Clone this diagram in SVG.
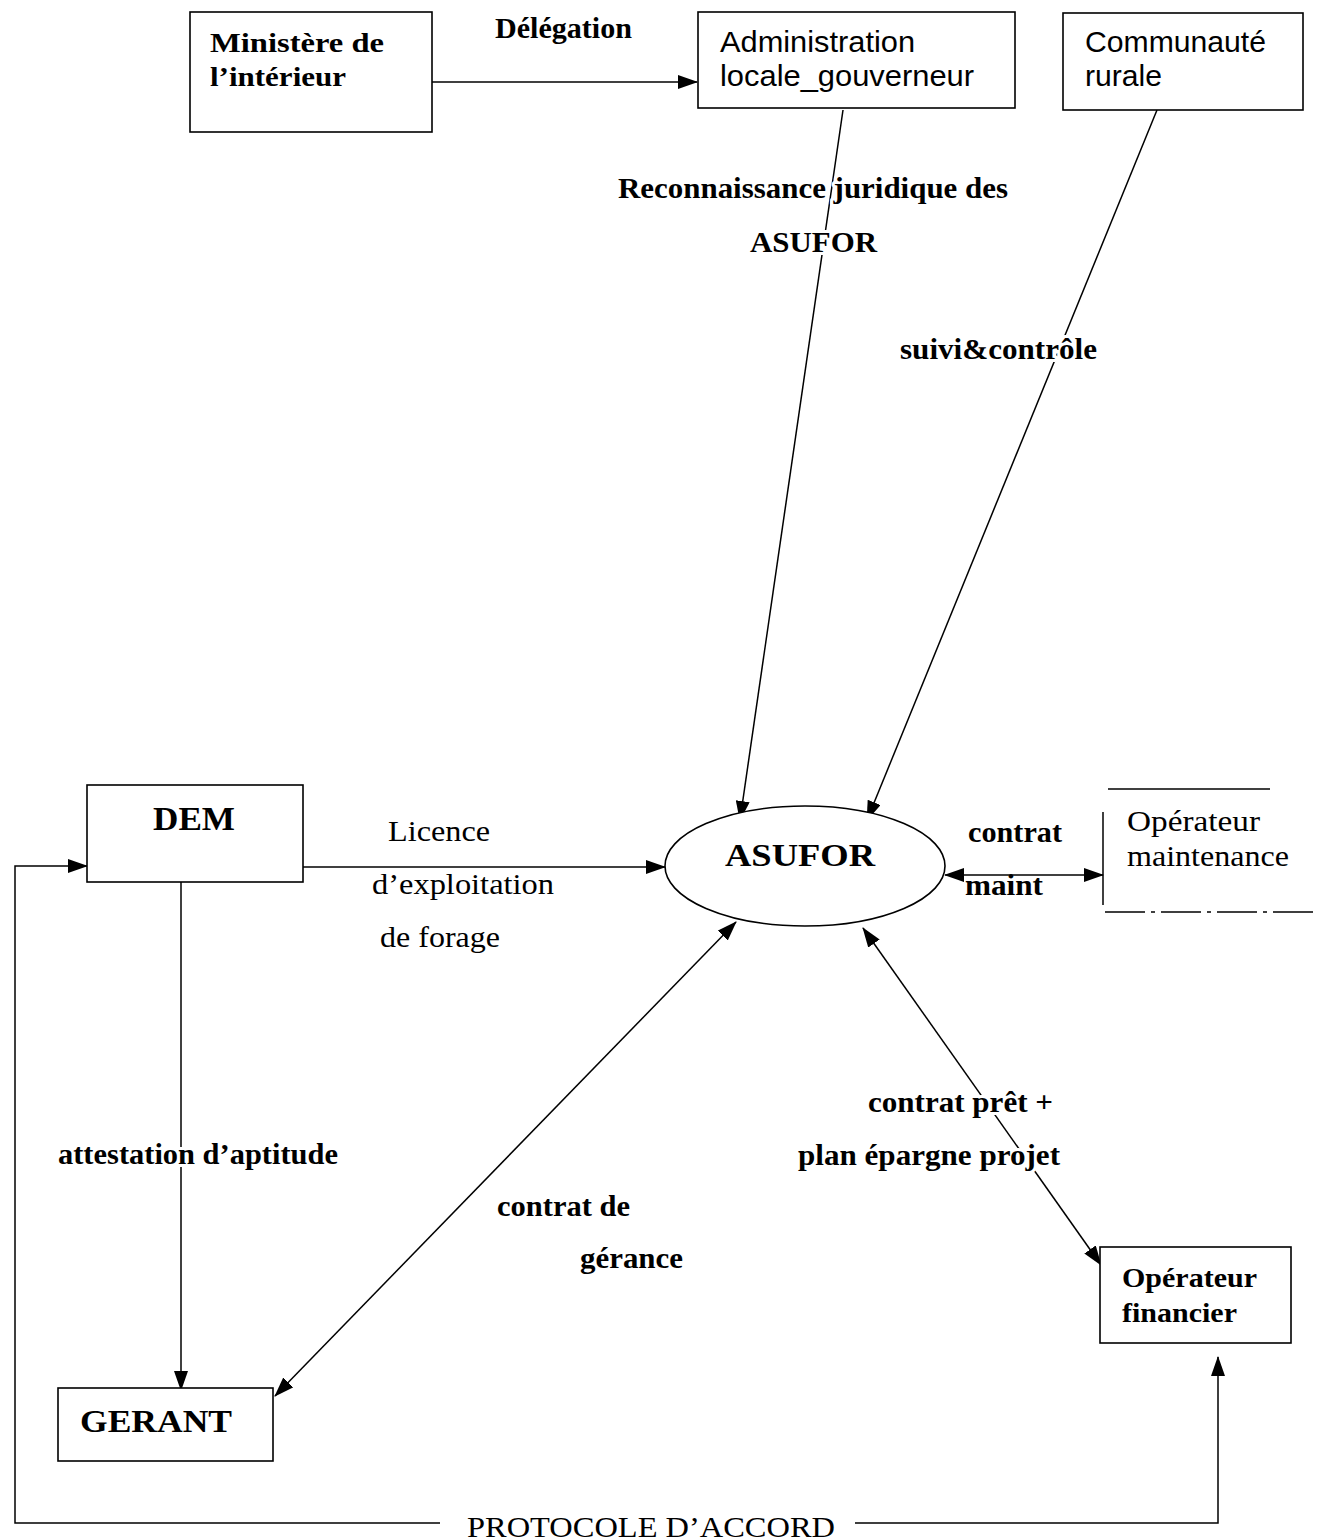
<svg xmlns="http://www.w3.org/2000/svg" width="1317" height="1540" viewBox="0 0 1317 1540">
<style>
.box{fill:#fff;stroke:#000;stroke-width:1.6}
.ln{fill:none;stroke:#000;stroke-width:1.5}
.sb{font-family:"Liberation Serif","Times New Roman",serif;font-weight:bold;fill:#000}
.sr{font-family:"Liberation Serif","Times New Roman",serif;fill:#000}
.ss{font-family:"Liberation Sans",Arial,sans-serif;fill:#000}
.halo{paint-order:stroke;stroke:#fff;stroke-width:6px;stroke-linejoin:round}
</style>
<defs>
<marker id="ah" viewBox="0 0 20 14" refX="19" refY="7" markerWidth="20" markerHeight="14" markerUnits="userSpaceOnUse" orient="auto-start-reverse">
<path d="M0,0 L20,7 L0,14 Z" fill="#000"/>
</marker>
</defs>
<rect width="1317" height="1540" fill="#fff"/>
<g id="connectors">
<line class="ln" x1="432" y1="82" x2="697" y2="82" marker-end="url(#ah)"/>
<line class="ln" x1="843" y1="110" x2="740" y2="820" marker-end="url(#ah)"/>
<line class="ln" x1="1157" y1="110" x2="867" y2="820" marker-end="url(#ah)"/>
<line class="ln" x1="303" y1="867" x2="665" y2="867" marker-end="url(#ah)"/>
<line class="ln" x1="945" y1="875" x2="1103" y2="875" marker-start="url(#ah)" marker-end="url(#ah)"/>
<line class="ln" x1="181" y1="882" x2="181" y2="1390" marker-end="url(#ah)"/>
<line class="ln" x1="736" y1="922" x2="275" y2="1396" marker-start="url(#ah)" marker-end="url(#ah)"/>
<line class="ln" x1="863" y1="928" x2="1101" y2="1265" marker-start="url(#ah)" marker-end="url(#ah)"/>
<polyline class="ln" points="440,1523 15,1523 15,866 87,866" marker-end="url(#ah)"/>
<polyline class="ln" points="855,1523 1218,1523 1218,1357" marker-end="url(#ah)"/>
<text class="sb halo" x="618" y="198" font-size="29" textLength="390" lengthAdjust="spacingAndGlyphs">Reconnaissance juridique des</text>
<text class="sb halo" x="750" y="252" font-size="29" textLength="127" lengthAdjust="spacingAndGlyphs">ASUFOR</text>
<text class="sb halo" x="900" y="359" font-size="29" textLength="197" lengthAdjust="spacingAndGlyphs">suivi&amp;contrôle</text>
<text class="sb" x="495" y="38" font-size="29" textLength="137" lengthAdjust="spacingAndGlyphs">Délégation</text>
<text class="sr" x="388" y="841" font-size="29" textLength="102" lengthAdjust="spacingAndGlyphs">Licence</text>
<text class="sr" x="372" y="894" font-size="29" textLength="182" lengthAdjust="spacingAndGlyphs">d’exploitation</text>
<text class="sr" x="380" y="947" font-size="29" textLength="120" lengthAdjust="spacingAndGlyphs">de forage</text>
<text class="sb" x="968" y="842" font-size="29" textLength="94" lengthAdjust="spacingAndGlyphs">contrat</text>
<text class="sb" x="965" y="895" font-size="29" textLength="78" lengthAdjust="spacingAndGlyphs">maint</text>
<text class="sb halo" x="58" y="1164" font-size="29" textLength="280" lengthAdjust="spacingAndGlyphs">attestation d’aptitude</text>
<text class="sb" x="497" y="1216" font-size="29" textLength="133" lengthAdjust="spacingAndGlyphs">contrat de</text>
<text class="sb" x="580" y="1268" font-size="29" textLength="103" lengthAdjust="spacingAndGlyphs">gérance</text>
<text class="sb halo" x="868" y="1112" font-size="29" textLength="185" lengthAdjust="spacingAndGlyphs">contrat prêt +</text>
<text class="sb halo" x="798" y="1165" font-size="29" textLength="262" lengthAdjust="spacingAndGlyphs">plan épargne projet</text>
<text class="sr" x="467" y="1537" font-size="30" textLength="368" lengthAdjust="spacingAndGlyphs">PROTOCOLE D’ACCORD</text>
</g>
<g id="ministere">
<rect class="box" x="190" y="12" width="242" height="120"/>
<text class="sb" x="210" y="52" font-size="28" textLength="174" lengthAdjust="spacingAndGlyphs">Ministère de</text>
<text class="sb" x="210" y="86" font-size="28" textLength="136" lengthAdjust="spacingAndGlyphs">l’intérieur</text>
</g>
<g id="administration">
<rect class="box" x="698" y="12" width="317" height="96"/>
<text class="ss" x="720" y="52" font-size="30" textLength="195" lengthAdjust="spacingAndGlyphs">Administration</text>
<text class="ss" x="720" y="86" font-size="30" textLength="254" lengthAdjust="spacingAndGlyphs">locale_gouverneur</text>
</g>
<g id="communaute">
<rect class="box" x="1063" y="13" width="240" height="97"/>
<text class="ss" x="1085" y="52" font-size="30" textLength="181" lengthAdjust="spacingAndGlyphs">Communauté</text>
<text class="ss" x="1085" y="86" font-size="30" textLength="77" lengthAdjust="spacingAndGlyphs">rurale</text>
</g>
<g id="dem">
<rect class="box" x="87" y="785" width="216" height="97"/>
<text class="sb" x="194" y="830" font-size="33" text-anchor="middle" textLength="82" lengthAdjust="spacingAndGlyphs">DEM</text>
</g>
<g id="asufor">
<ellipse class="box" cx="805" cy="866" rx="140" ry="60"/>
<text class="sb" x="800" y="866" font-size="32" text-anchor="middle" textLength="150" lengthAdjust="spacingAndGlyphs">ASUFOR</text>
</g>
<g id="operateur-maintenance">
<line class="ln" x1="1108" y1="789" x2="1270" y2="789"/>
<line class="ln" x1="1103" y1="812" x2="1103" y2="905"/>
<line class="ln" x1="1105" y1="912" x2="1317" y2="912" stroke-dasharray="40,6,4,6"/>
<text class="sr" x="1127" y="831" font-size="29" textLength="133" lengthAdjust="spacingAndGlyphs">Opérateur</text>
<text class="sr" x="1127" y="866" font-size="29" textLength="162" lengthAdjust="spacingAndGlyphs">maintenance</text>
</g>
<g id="gerant">
<rect class="box" x="58" y="1388" width="215" height="73"/>
<text class="sb" x="80" y="1432" font-size="32" textLength="152" lengthAdjust="spacingAndGlyphs">GERANT</text>
</g>
<g id="operateur-financier">
<rect class="box" x="1100" y="1247" width="191" height="96"/>
<text class="sb" x="1122" y="1287" font-size="28" textLength="135" lengthAdjust="spacingAndGlyphs">Opérateur</text>
<text class="sb" x="1122" y="1322" font-size="28" textLength="115" lengthAdjust="spacingAndGlyphs">financier</text>
</g>
</svg>
